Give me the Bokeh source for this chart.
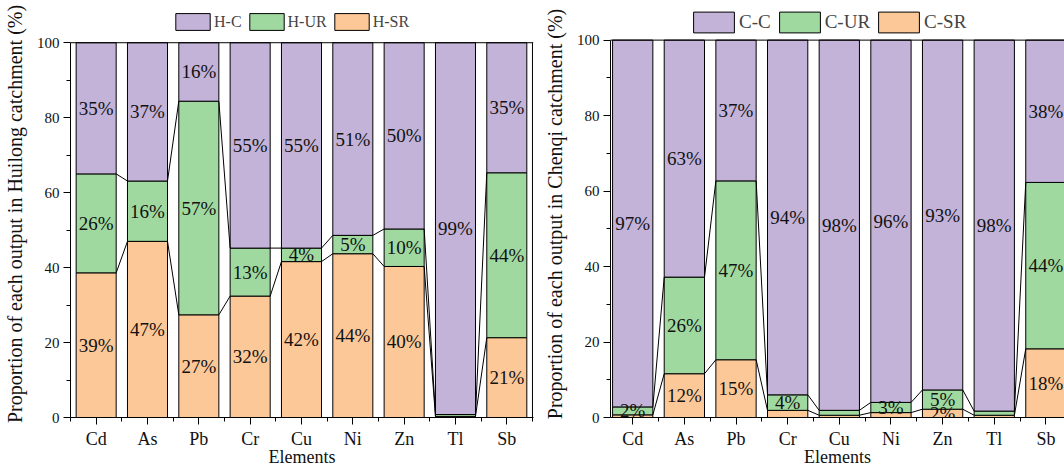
from bokeh.plotting import figure
from bokeh.models import FixedTicker, Legend, LegendItem, Range1d
from bokeh.layouts import row
from bokeh.embed import file_html
from bokeh.resources import INLINE
from bokeh.core.properties import value

# Elements on the x axis
elements = ["Cd", "As", "Pb", "Cr", "Cu", "Ni", "Zn", "Tl", "Sb"]

# Huilong catchment: share of each output (%)
h_sr = [38.6, 47.0, 27.4, 32.4, 41.6, 43.7, 40.3, 0.3, 21.3]
h_ur = [26.4, 16.1, 57.0, 12.8, 3.6, 4.9, 10.0, 0.5, 44.0]
h_c = [35.0, 36.9, 15.6, 54.8, 54.8, 51.4, 49.7, 99.2, 34.7]

# Chenqi catchment: share of each output (%)
c_sr = [0.7, 11.6, 15.3, 1.9, 0.6, 1.3, 2.2, 0.6, 18.2]
c_ur = [2.1, 25.6, 47.4, 4.1, 1.3, 2.7, 5.1, 1.1, 44.1]
c_c = [97.2, 62.8, 37.3, 94.0, 98.1, 96.0, 92.7, 98.3, 37.7]

y_ticks = [0, 20, 40, 60, 80, 100]

PURPLE = "#C3B3D8"
GREEN = "#A0D9A0"
ORANGE = "#FDC898"
FONT = "Liberation Serif"
BAR_W = 0.78
MIN_LABEL = 2.0  # segments below this share get no text
HEIGHT = 469


def panel(sr, ur, cc, ylabel, labels, width, x_range, y_top, border_left, border_right,
          border_top, border_bottom, pct_size, legend_cfg, right_edge=True):
    # the range runs a little past 100 so the legend sits above the bars
    p = figure(width=width, height=HEIGHT, output_backend="svg", toolbar_location=None,
               x_range=Range1d(*x_range), y_range=Range1d(0, y_top),
               min_border_left=border_left, min_border_right=border_right,
               min_border_top=border_top, min_border_bottom=border_bottom)
    p.xgrid.visible = False
    p.ygrid.visible = False
    p.outline_line_color = None

    xs = list(range(len(elements)))
    cum1 = list(sr)
    cum2 = [a + b for a, b in zip(sr, ur)]
    cum3 = [a + b for a, b in zip(cum2, cc)]

    r_sr = p.vbar(x=xs, bottom=0, top=cum1, width=BAR_W, fill_color=ORANGE,
                  line_color="black", line_width=1)
    r_ur = p.vbar(x=xs, bottom=cum1, top=cum2, width=BAR_W, fill_color=GREEN,
                  line_color="black", line_width=1)
    r_c = p.vbar(x=xs, bottom=cum2, top=cum3, width=BAR_W, fill_color=PURPLE,
                 line_color="black", line_width=1)

    # connecting lines between neighbouring stacks
    for level in (cum1, cum2):
        p.segment(x0=[i + BAR_W / 2 for i in xs[:-1]], y0=level[:-1],
                  x1=[i + 1 - BAR_W / 2 for i in xs[:-1]], y1=level[1:],
                  line_color="black", line_width=1)

    # box edges of the 0-100 area
    x_lo, x_hi = -0.5, len(elements) - 0.5
    p.segment(x0=[x_lo], y0=[100], x1=[x_range[1]], y1=[100],
              line_color="black", line_width=1)
    if right_edge:
        p.segment(x0=[x_hi], y0=[0], x1=[x_hi], y1=[100],
                  line_color="black", line_width=1)

    # percentage text in the middle of each segment
    tx, ty, tt = [], [], []
    for vals, lows in ((sr, [0] * len(sr)), (ur, cum1), (cc, cum2)):
        for i, (v, lo) in enumerate(zip(vals, lows)):
            if v >= MIN_LABEL:
                tx.append(i)
                ty.append(lo + v / 2)
                tt.append(f"{v:.0f}%")
    p.text(x=tx, y=ty, text=tt, text_font=value(FONT), text_font_size=pct_size,
           text_align="center", text_baseline="middle", text_color="#111111")

    # axes
    xa = p.xaxis[0]
    xa.ticker = FixedTicker(ticks=xs, minor_ticks=[i - 0.5 for i in range(len(elements) + 1)])
    xa.major_label_overrides = {i: n for i, n in enumerate(elements)}
    xa.axis_label = "Elements"
    ya = p.yaxis[0]
    ya.ticker = FixedTicker(ticks=y_ticks, minor_ticks=[10, 30, 50, 70, 90])
    ya.bounds = (0, 100)
    ya.axis_label = ylabel
    for ax in (xa, ya):
        ax.axis_line_color = "black"
        ax.axis_line_width = 1
        ax.major_tick_line_color = "black"
        ax.minor_tick_line_color = "black"
        ax.major_tick_out = 7
        ax.major_tick_in = 0
        ax.minor_tick_out = 4
        ax.minor_tick_in = 0
        ax.major_label_text_font = FONT
        ax.major_label_text_color = "#111111"
        ax.axis_label_text_font = FONT
        ax.axis_label_text_font_style = "normal"
        ax.axis_label_text_color = "#111111"
    xa.major_label_text_font_size = "18px"
    xa.axis_label_text_font_size = "18px"
    xa.major_label_standoff = 4
    xa.axis_label_standoff = -5
    ya.major_label_text_font_size = "15px"
    ya.axis_label_text_font_size = "20px"
    ya.major_label_standoff = 4
    ya.axis_label_standoff = 8

    gw, gh, fs, loc = legend_cfg
    legend = Legend(items=[LegendItem(label=labels[0], renderers=[r_c]),
                           LegendItem(label=labels[1], renderers=[r_ur]),
                           LegendItem(label=labels[2], renderers=[r_sr])],
                    orientation="horizontal", location=loc,
                    border_line_color=None, background_fill_alpha=0,
                    glyph_width=gw, glyph_height=gh, label_height=gh,
                    label_text_font=FONT, label_text_font_size=fs,
                    label_standoff=0, spacing=3, padding=0, margin=0)
    p.add_layout(legend, "center")
    return p


left = panel(h_sr, h_ur, h_c,
             "Proportion of each output in Huilong catchment (%)",
             ["H-C", "H-UR", "H-SR"],
             540, (-0.5, 8.52), 108.6, 66, 7, 10, 50, "19px",
             (43, 21, "16px", (101, 385)))
right = panel(c_sr, c_ur, c_c,
              "Proportion of each output in Chenqi catchment (%)",
              ["C-C", "C-UR", "C-SR"],
              524, (-0.43, 8.36), 107.85, 59, 0, 8, 49, "19px",
              (51, 26, "19px", (78, 382)), right_edge=False)

layout = row(left, right)
open("out.html", "w").write(file_html(layout, INLINE))
